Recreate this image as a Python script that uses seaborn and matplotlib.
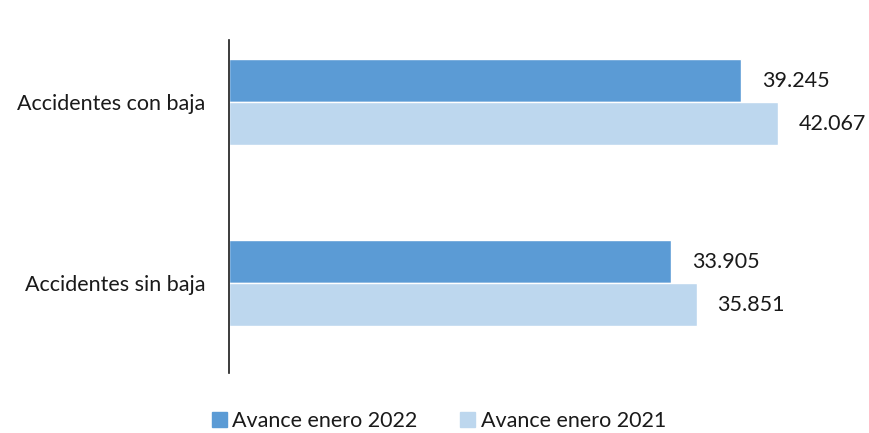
import matplotlib.pyplot as plt
import pandas as pd
import seaborn as sns

categorias = ['Accidentes con baja', 'Accidentes sin baja']
series = ['Avance enero 2022', 'Avance enero 2021']
valores_2022 = [39245, 33905]
valores_2021 = [42067, 35851]
colores = ['#5B9BD5', '#BDD7EE']

df = pd.DataFrame({
    'categoria': categorias * 2,
    'serie': [series[0]] * 2 + [series[1]] * 2,
    'valor': valores_2022 + valores_2021,
})

sns.set_style('white')
plt.rcParams['font.family'] = ['Lato', 'DejaVu Sans']
fs = 15.5

fig = plt.figure(figsize=(8.69, 4.33), dpi=100)
ax = fig.add_axes([0.2635, 0.1386, 0.7055, 0.769])

sns.barplot(ax=ax, data=df, y='categoria', x='valor', hue='serie', hue_order=series,
            palette=colores, orient='h', width=0.475, saturation=1, errorbar=None)

for cont in ax.containers:
    ax.bar_label(cont, labels=[format(int(v), ',').replace(',', '.') for v in cont.datavalues],
                 padding=15, fontsize=fs, color='#1a1a1a')

ax.set_xlim(0, 47000)
ax.set_ylim(1.497, -0.343)
ax.set_xlabel('')
ax.set_ylabel('')
ax.set_xticks([])
ax.tick_params(axis='y', length=0, pad=17, labelsize=fs, labelcolor='#1a1a1a')
for s in ['top', 'right', 'bottom']:
    ax.spines[s].set_visible(False)
ax.spines['left'].set_color('#1a1a1a')
ax.spines['left'].set_linewidth(1.2)

ax.get_legend().remove()
handles = [plt.Rectangle((0, 0), 1, 1, color=c) for c in colores]
fig.legend(handles, series, loc='center', bbox_to_anchor=(0.505, 0.027), ncol=2, frameon=False,
           fontsize=fs, handlelength=0.7, handleheight=0.7, handletextpad=0.25, columnspacing=2.0,
           labelcolor='#1a1a1a')

plt.savefig('out.png', dpi=100)
